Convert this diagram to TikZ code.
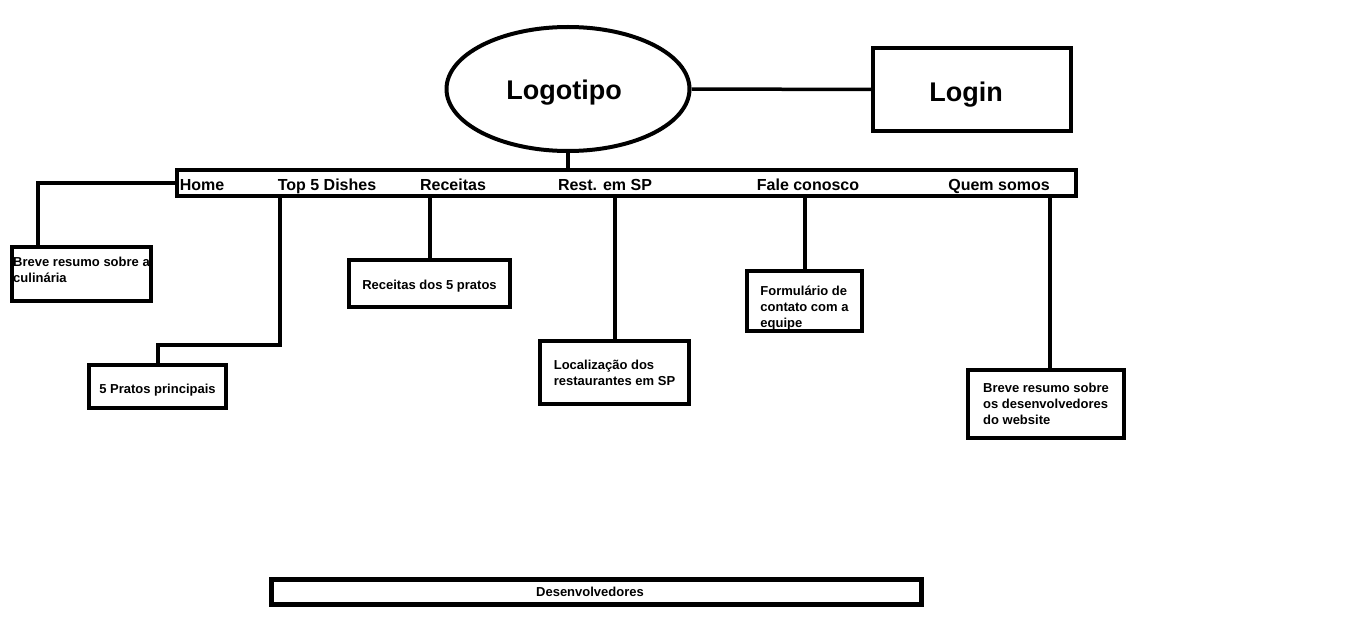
\documentclass[tikz,border=0pt]{standalone}
\usepackage{fontspec}
\setmainfont{Liberation Sans}
\usetikzlibrary{shapes.geometric,calc}
\begin{document}
\begin{tikzpicture}[x=1pt,y=-1pt,
  wire/.style={line width=4pt},
  pagebox/.style={draw,line width=4pt,rectangle,inner sep=0pt,align=left,
    font=\fontsize{13}{16}\selectfont\bfseries},
  menuitem/.style={anchor=base,inner sep=0pt,font=\fontsize{16}{19}\selectfont\bfseries},
  big/.style={font=\fontsize{27}{32}\selectfont\bfseries}]
\useasboundingbox (0,0) rectangle (1360,623);
\fill[white] (0,0) rectangle (1360,623);

% header
\node[draw,ellipse,line width=4pt,inner sep=0pt,minimum width=243pt,minimum height=124pt] (logo) at (568,89) {};
\node[big] at (564,93) (logotxt) {Logotipo};
\node[draw,line width=4pt,rectangle,inner sep=0pt,minimum width=198pt,minimum height=83pt] (login) at (972,89.5) {};
\node[big] at (966,95) (logintxt) {Login};

% menu bar
\node[draw,line width=4pt,rectangle,inner sep=0pt,minimum width=899pt,minimum height=26pt] (bar) at (626.5,183) {};
\node[menuitem] (mhome) at (202,190) {Home};
\node[menuitem] (mtop)  at (327,190) {Top 5 Dishes};
\node[menuitem] (mrec)  at (453,190) {Receitas};
\node[menuitem] (mrest) at (605,190) {Rest. em SP};
\node[menuitem] (mfale) at (808,190) {Fale conosco};
\node[menuitem] (mquem) at (999,190) {Quem somos};

% page boxes
\node[pagebox,minimum width=139pt,minimum height=54pt] (culin) at (81.5,274) {Breve resumo sobre a\\culinária\rule[-8pt]{0pt}{8pt}};
\node[pagebox,minimum width=137pt,minimum height=43pt] (pratos) at (157.5,386.5) {\raisebox{-4pt}[\height][\depth]{5 Pratos principais}};
\node[pagebox,minimum width=161pt,minimum height=47pt] (rec) at (429.5,283.5) {\raisebox{-3pt}[\height][\depth]{Receitas dos 5 pratos}};
\node[pagebox,minimum width=149pt,minimum height=63pt] (rest) at (614.5,372.5) {Localização dos\\restaurantes em SP};
\node[pagebox,minimum width=115pt,minimum height=60pt] (fale) at (804.5,301) {\rule{0pt}{23pt}Formulário de\\contato com a\\equipe};
\node[pagebox,minimum width=156pt,minimum height=68pt] (quem) at (1046,404) {Breve resumo sobre\\os desenvolvedores\\do website};
\node[pagebox,line width=5pt,minimum width=650pt,minimum height=25pt] (dev) at (596,591.5) {\hspace*{-12pt}Desenvolvedores};

% connectors
\coordinate (hc) at (38,183);
\coordinate (tc) at (280,345);
\coordinate (qc) at (1050,0);
\draw[wire] (logo.south) -- (logo.south |- bar.north);
\draw[line width=3.5pt] (logo.east) -- (login.west);
\draw[wire] (bar.west) -- (hc) -- (hc |- culin.north);
\draw[wire] (bar.south -| tc) -- (tc) -| (pratos.north);
\draw[wire] (bar.south -| rec.north) -- (rec.north);
\draw[wire] (bar.south -| rest.north) -- (rest.north);
\draw[wire] (bar.south -| fale.north) -- (fale.north);
\draw[wire] (bar.south -| qc) -- (qc |- quem.north);
\end{tikzpicture}
\end{document}
